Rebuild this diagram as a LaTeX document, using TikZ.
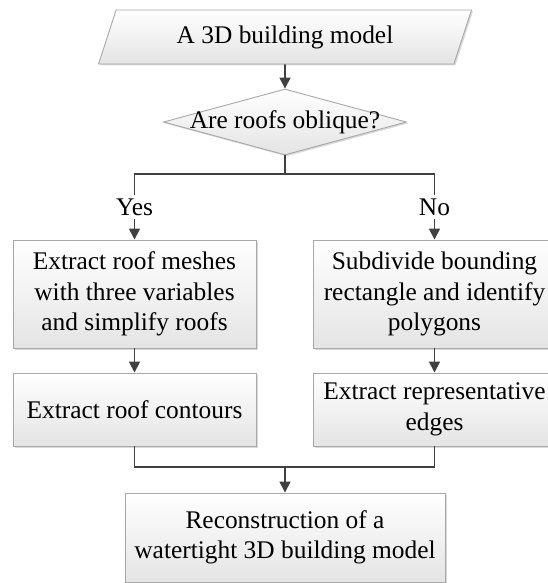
\documentclass[tikz,border=0pt]{standalone}
\usepackage{fontspec}
\setmainfont{Liberation Serif}
\usetikzlibrary{shapes.geometric,arrows.meta,shadows}
\definecolor{linegray}{HTML}{404040}
\definecolor{edgegray}{HTML}{A8A8A8}
\definecolor{fillbot}{HTML}{E4E4E4}
\begin{document}
\begin{tikzpicture}[x=1pt,y=-1pt,
  every node/.style={font=\fontsize{25.4}{30.5}\selectfont, text=black},
  shaded/.style={draw=edgegray, line width=0.9pt, top color=white, bottom color=fillbot,
    drop shadow={shadow xshift=1.5pt, shadow yshift=-1.5pt, opacity=0.3, fill=gray}},
  proc/.style={shaded, rectangle, minimum width=243pt, align=center, inner sep=0pt},
  io/.style={shaded, trapezium, trapezium left angle=64, trapezium right angle=116,
    trapezium stretches=true, minimum width=373pt, minimum height=54pt, inner sep=0pt},
  decision/.style={shaded, diamond, minimum width=243pt, minimum height=66pt, inner sep=0pt},
  branch/.style={inner sep=3pt},
  conn/.style={draw=linegray, line width=1.6pt},
  arr/.style={conn, -{Triangle[length=11pt,width=11pt]}}
]
\useasboundingbox (0,0) rectangle (547,583);

% input and decision
\node[io] (inp) at (285,37) {A 3D building model};
\node[decision] (dec) at (285,122) {\makebox[0pt]{Are roofs oblique?}};
\coordinate (split) at (285,174);

% branch labels
\node[branch] (yes) at (134.5,207) {Yes};
\node[branch] (no) at (434.5,207) {No};

% processing steps
\node[proc, minimum height=108pt] (b1) at (134.5,294)
  {Extract roof meshes\\with three variables\\and simplify roofs};
\node[proc, minimum height=108pt] (r1) at (434.5,294)
  {Subdivide bounding\\rectangle and identify\\polygons};
\node[proc, minimum height=73pt] (b2) at (134.5,409.5) {Extract roof contours};
\node[proc, minimum height=73pt] (r2) at (434.5,409.5) {Extract representative\\edges};
\coordinate (merge) at (285,467);
\node[proc, minimum width=320pt, minimum height=89pt] (fin) at (285,537.5)
  {Reconstruction of a\\watertight 3D building model};

% connectors
\draw[arr] (inp.south) -- (dec.north);
\draw[conn] (dec.south) -- (split);
\draw[conn] (yes.north) |- (split) -| (no.north);
\draw[arr] (yes.south) -- (b1.north);
\draw[arr] (no.south) -- (r1.north);
\draw[arr] (b1.south) -- (b2.north);
\draw[arr] (r1.south) -- (r2.north);
\draw[conn] (b2.south) |- (merge) -| (r2.south);
\draw[arr] (merge) -- (fin.north);
\end{tikzpicture}
\end{document}
